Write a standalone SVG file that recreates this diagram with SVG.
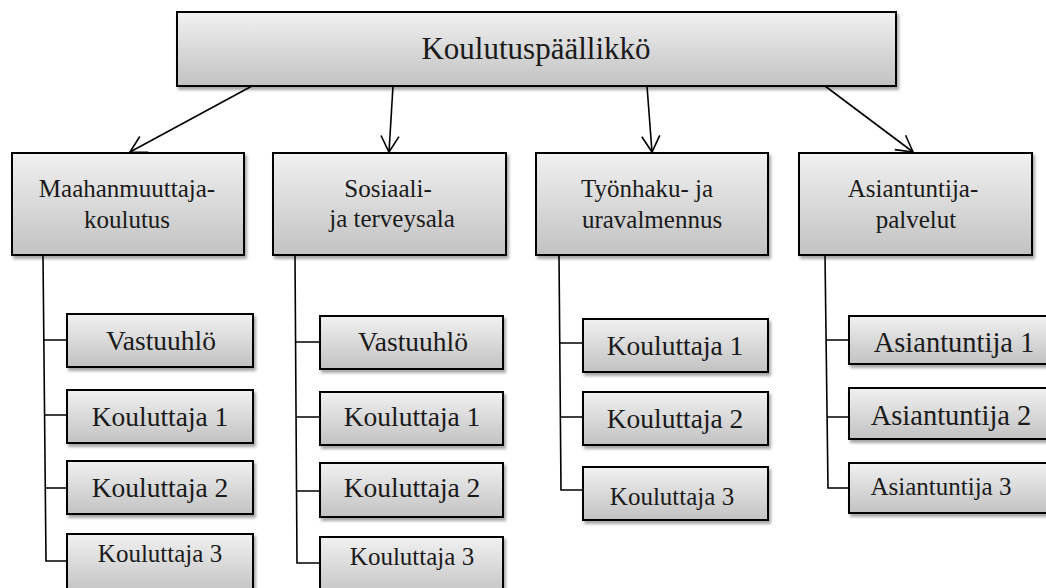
<svg xmlns="http://www.w3.org/2000/svg" width="1046" height="588" viewBox="0 0 1046 588">
  <defs>
    <linearGradient id="boxFill" x1="0" y1="0" x2="0" y2="1">
      <stop offset="0" stop-color="#f1f1f1"/>
      <stop offset="1" stop-color="#c2c2c2"/>
    </linearGradient>
    <filter id="shadow" x="-5%" y="-10%" width="115%" height="130%">
      <feDropShadow dx="2" dy="3" stdDeviation="1.8" flood-color="#000" flood-opacity="0.35"/>
    </filter>
    <marker id="openArrow" viewBox="0 0 18 20" refX="17" refY="10" markerWidth="18" markerHeight="20" markerUnits="userSpaceOnUse" orient="auto">
      <path d="M1,1 L17,10 L1,19" fill="none" stroke="#000" stroke-width="1.6"/>
    </marker>
  </defs>
  <style>
    .box { fill: url(#boxFill); stroke: #000; stroke-width: 2; filter: url(#shadow); }
    text { font-family: 'Liberation Serif', 'DejaVu Serif', serif; fill: #1a1a1a; text-anchor: middle; }
    .top { font-size: 31px; }
    .unit { font-size: 25px; }
    .staff { font-size: 27.5px; }
    .wide { font-size: 28.5px; }
    .small { font-size: 25px; }
    .link { fill: none; stroke: #000; stroke-width: 1.6; }
    .arrow { fill: none; stroke: #000; stroke-width: 1.6; marker-end: url(#openArrow); }
  </style>

  <rect width="1046" height="588" fill="#fff"/>

  <!-- connectors -->
  <g id="connectors">
    <line class="arrow" x1="252" y1="86" x2="130" y2="152"/>
    <line class="arrow" x1="393" y1="86" x2="389" y2="152"/>
    <line class="arrow" x1="647" y1="86" x2="652" y2="152"/>
    <line class="arrow" x1="825" y1="86" x2="913" y2="152"/>

    <!-- Maahanmuuttajakoulutus branch -->
    <path class="link" d="M43,255 L46,561 L67,561 M43.9,340 L67,340 M44.6,415 L67,415 M45.3,488 L67,488"/>
    <!-- Sosiaali- ja terveysala branch -->
    <path class="link" d="M295,255 L297,563 L320,563 M295.6,342 L320,342 M296.1,417 L320,417 M296.5,491 L320,491"/>
    <!-- Työnhaku- ja uravalmennus branch -->
    <path class="link" d="M559,255 L561,490 L583,490 M559.8,343 L583,343 M560.4,417 L583,417"/>
    <!-- Asiantuntijapalvelut branch -->
    <path class="link" d="M825,255 L828,488 L849,488 M826.1,340 L849,340 M827.1,417 L849,417"/>
  </g>

  <!-- head -->
  <g id="koulutuspaallikko">
    <rect class="box" x="177" y="12" width="719" height="74"/>
    <text class="top" x="536" y="59">Koulutuspäällikkö</text>
  </g>

  <!-- units -->
  <g id="maahanmuuttajakoulutus">
    <rect class="box" x="12" y="153" width="232" height="102"/>
    <text class="unit" x="127" y="197">Maahanmuuttaja-</text>
    <text class="unit" x="127" y="228">koulutus</text>
  </g>
  <g id="sosiaali-terveysala">
    <rect class="box" x="273" y="153" width="233" height="102"/>
    <text class="unit" x="388" y="197">Sosiaali-</text>
    <text class="unit" x="392" y="227">ja terveysala</text>
  </g>
  <g id="tyonhaku-uravalmennus">
    <rect class="box" x="536" y="153" width="232" height="102"/>
    <text class="unit" x="647" y="197">Työnhaku- ja</text>
    <text class="unit" x="652" y="228">uravalmennus</text>
  </g>
  <g id="asiantuntijapalvelut">
    <rect class="box" x="799" y="153" width="233" height="102"/>
    <text class="unit" x="913" y="197">Asiantuntija-</text>
    <text class="unit" x="916" y="228">palvelut</text>
  </g>

  <!-- staff: Maahanmuuttajakoulutus -->
  <g id="mk-vastuuhlo">
    <rect class="box" x="67" y="314" width="186" height="53"/>
    <text class="staff" x="161" y="350">Vastuuhlö</text>
  </g>
  <g id="mk-kouluttaja-1">
    <rect class="box" x="67" y="390" width="186" height="53"/>
    <text class="staff" x="160" y="426">Kouluttaja 1</text>
  </g>
  <g id="mk-kouluttaja-2">
    <rect class="box" x="67" y="461" width="186" height="53"/>
    <text class="staff" x="160" y="497">Kouluttaja 2</text>
  </g>
  <g id="mk-kouluttaja-3">
    <rect class="box" x="67" y="534" width="186" height="60"/>
    <text class="small" x="160" y="562">Kouluttaja 3</text>
  </g>

  <!-- staff: Sosiaali- ja terveysala -->
  <g id="st-vastuuhlo">
    <rect class="box" x="320" y="316" width="183" height="53"/>
    <text class="staff" x="413" y="351">Vastuuhlö</text>
  </g>
  <g id="st-kouluttaja-1">
    <rect class="box" x="320" y="392" width="183" height="53"/>
    <text class="staff" x="412" y="426">Kouluttaja 1</text>
  </g>
  <g id="st-kouluttaja-2">
    <rect class="box" x="320" y="463" width="183" height="54"/>
    <text class="staff" x="412" y="497">Kouluttaja 2</text>
  </g>
  <g id="st-kouluttaja-3">
    <rect class="box" x="320" y="537" width="183" height="60"/>
    <text class="small" x="412" y="565">Kouluttaja 3</text>
  </g>

  <!-- staff: Työnhaku- ja uravalmennus -->
  <g id="tu-kouluttaja-1">
    <rect class="box" x="583" y="319" width="185" height="53"/>
    <text class="staff" x="675" y="355">Kouluttaja 1</text>
  </g>
  <g id="tu-kouluttaja-2">
    <rect class="box" x="583" y="392" width="185" height="53"/>
    <text class="staff" x="675" y="428">Kouluttaja 2</text>
  </g>
  <g id="tu-kouluttaja-3">
    <rect class="box" x="583" y="467" width="185" height="53"/>
    <text class="small" x="672" y="505">Kouluttaja 3</text>
  </g>

  <!-- staff: Asiantuntijapalvelut -->
  <g id="ap-asiantuntija-1">
    <rect class="box" x="849" y="316" width="210" height="48"/>
    <text class="wide" x="954" y="352">Asiantuntija 1</text>
  </g>
  <g id="ap-asiantuntija-2">
    <rect class="box" x="849" y="388" width="210" height="51"/>
    <text class="wide" x="951" y="425">Asiantuntija 2</text>
  </g>
  <g id="ap-asiantuntija-3">
    <rect class="box" x="849" y="463" width="210" height="50"/>
    <text class="small" x="941" y="495">Asiantuntija 3</text>
  </g>
</svg>
